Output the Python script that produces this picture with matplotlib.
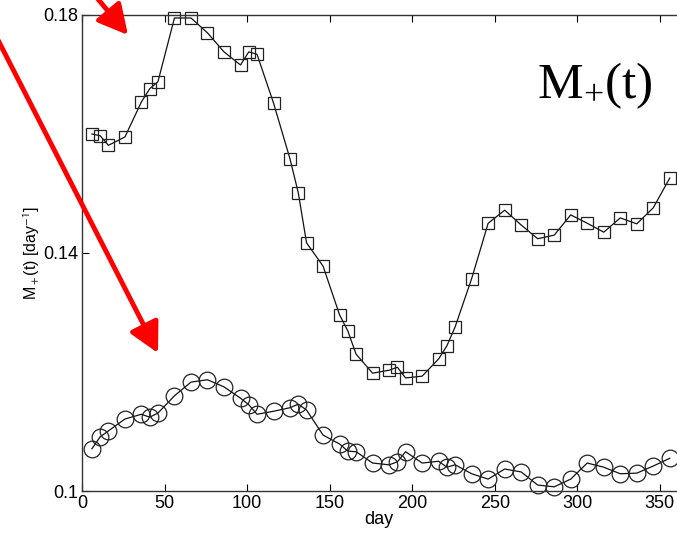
import matplotlib
matplotlib.use("Agg")
import matplotlib.pyplot as plt
from matplotlib.patches import FancyArrowPatch

days = [6, 11, 16, 26, 36, 41, 46, 56, 66, 76, 86, 96, 101, 106, 116, 126, 131, 136, 146,
        156, 161, 166, 176, 186, 191, 196, 206, 216, 221, 226, 236, 246, 256, 266, 276, 286,
        296, 306, 316, 326, 336, 346, 356]

m_squares = [0.1600, 0.1597, 0.1581, 0.1595, 0.1654, 0.1676, 0.1688, 0.1795, 0.1795, 0.1770,
             0.1738, 0.1716, 0.1738, 0.1734, 0.1652, 0.1558, 0.1501, 0.1417, 0.1378,
             0.1296, 0.1269, 0.1230, 0.1198, 0.1203, 0.1208, 0.1190, 0.1193, 0.1222, 0.1244,
             0.1276, 0.1357, 0.1450, 0.1472, 0.1447, 0.1424, 0.1430, 0.1464, 0.1450, 0.1435,
             0.1459, 0.1449, 0.1476, 0.1526]

m_circles = [0.1071, 0.1091, 0.1101, 0.1121, 0.1129, 0.1124, 0.1131, 0.1160, 0.1183, 0.1187,
             0.1175, 0.1156, 0.1145, 0.1129, 0.1134, 0.1140, 0.1146, 0.1136, 0.1094,
             0.1079, 0.1067, 0.1066, 0.1047, 0.1044, 0.1049, 0.1066, 0.1047, 0.1050, 0.1040,
             0.1044, 0.1029, 0.1020, 0.1037, 0.1032, 0.1010, 0.1007, 0.1020, 0.1047, 0.1040,
             0.1029, 0.1030, 0.1042, 0.1055]

xticks = [0, 50, 100, 150, 200, 250, 300, 350]
yticks = [0.1, 0.14, 0.18]
yticklabels = ["0.1", "0.14", "0.18"]

plt.rcParams['font.family'] = ['Liberation Sans', 'DejaVu Sans']
plt.rcParams['mathtext.fontset'] = 'stixsans'

fig = plt.figure(figsize=(6.77, 5.38), dpi=100)
ax = fig.add_axes([82 / 677, 1 - 491 / 538, (676.4 - 82) / 677, (491 - 15) / 538])

ax.plot(days, m_squares, '-', color='#111111', lw=0.9, marker='s', ms=8.5,
        mfc='none', mec='#222222', mew=0.9, clip_on=False)
ax.plot(days, m_circles, '-', color='#111111', lw=0.9, marker='o', ms=12,
        mfc='none', mec='#222222', mew=0.9, clip_on=False)

ax.set_xlim(0, 360)
ax.set_ylim(0.1, 0.18)
ax.set_xticks(xticks)
ax.set_yticks(yticks)
ax.set_yticklabels(yticklabels)
ax.tick_params(direction='in', top=True, right=False, labelsize=13, length=5, width=0.8,
               pad=3)
for s in ['left', 'bottom', 'top']:
    ax.spines[s].set_linewidth(1.0)
    ax.spines[s].set_color('#333333')
ax.spines['right'].set_visible(False)

ax.set_xlabel('day', fontsize=13, labelpad=-1)
ax.set_ylabel(r'M$_+$(t) [day$^{-1}$]', fontsize=11.5, labelpad=1)

ax.text(653 / 677, 1 - 98 / 538, r'M$_{\mathregular{+}}$(t)', transform=fig.transFigure,
        ha='right', va='baseline', fontsize=37, family='Liberation Serif')

# red annotation arrows (figure pixel coordinates)
H = 538
for (x0, y0), (x1, y1) in [((82, -20), (128, 35)), ((-2, 40), (158, 353))]:
    arr = FancyArrowPatch((x0, H - y0), (x1, H - y1), transform=None,
                          arrowstyle='-|>,head_length=1.8,head_width=0.95',
                          mutation_scale=10, color='#ff0000', lw=3.5,
                          shrinkA=0, shrinkB=0, clip_on=False)
    fig.add_artist(arr)

fig.savefig('out.png', dpi=100)
